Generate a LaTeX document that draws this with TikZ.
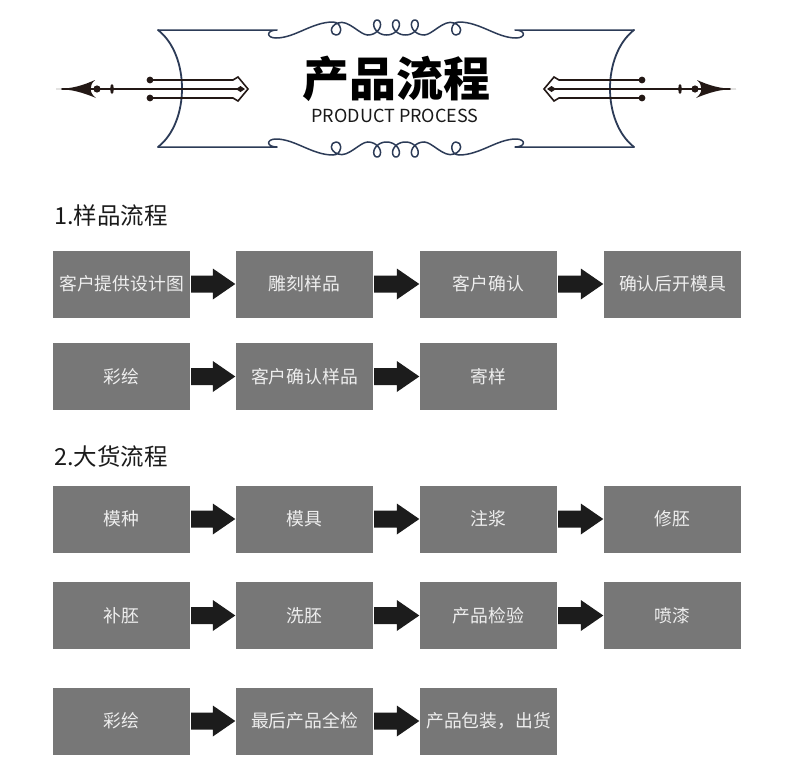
\documentclass[tikz,border=0pt]{standalone}
\usepackage{fontspec}
\setmainfont{Noto Sans CJK SC}
\usetikzlibrary{calc}
\definecolor{boxgray}{HTML}{777777}
\definecolor{boxtext}{HTML}{EEEEEE}
\definecolor{arrowblack}{HTML}{1C1C1C}
\definecolor{navy}{HTML}{2C3B57}
\definecolor{spear}{HTML}{231815}
\definecolor{headtext}{HTML}{1A1A1A}
\tikzset{
  procbox/.style={fill=boxgray, minimum width=137pt, minimum height=67pt, inner sep=0pt,
    text=boxtext, font=\fontsize{17.8pt}{20pt}\selectfont},
  heading/.style={anchor=west, inner sep=0pt, text=headtext, font=\fontsize{23.5pt}{26pt}\selectfont},
  framestroke/.style={draw=navy, line width=1.8pt, line cap=round, line join=round},
  spearstroke/.style={draw=spear, line width=1.6pt, line cap=round},
}
\newcommand\flowarr[2]{%
  \fill[arrowblack] let \p1=(#1.east), \p2=(#2.west) in
    (\x1+1pt,\y1+8.5pt) -- (\x2-23pt,\y1+8.5pt) -- (\x2-23pt,\y1+15.5pt) --
    (\x2-0.5pt,\y1) -- (\x2-23pt,\y1-15.5pt) -- (\x2-23pt,\y1-8.5pt) --
    (\x1+1pt,\y1-8.5pt) -- cycle;}
\newcommand\flourishhalf{%
  \draw[framestroke, line width=1.5pt] (158,30) -- (277,30)
    .. controls (266,30) and (266,38) .. (276,38)
    .. controls (295,38) and (312,22) .. (333,22)
    .. controls (342,22) and (343,35) .. (336,35)
    .. controls (330,35) and (329,26) .. (338,23)
    .. controls (348,19) and (360,35) .. (367.7,35);
  \draw[framestroke, line width=1.5pt] plot[domain=0:18.8496, samples=160, variable=\t]
    ({367.7+3*\t+7.5*sin(\t r)}, {27.5+7.5*cos(\t r)});
  \draw[framestroke, line width=1.5pt] (424.3,35)
    .. controls (432,35) and (444,19) .. (454,23)
    .. controls (463,26) and (462,35) .. (456,35)
    .. controls (450,35) and (450,22) .. (459,22)
    .. controls (480,22) and (497,38) .. (516,38)
    .. controls (526,38) and (526,30) .. (515,30) -- (634,30);}
\newcommand\spearorn{%
  \draw[spearstroke] (62,89) -- (238,89);
  \fill[spear] (56,89) .. controls (72,89) and (84,85) .. (95,80)
    .. controls (89,85) and (89,93) .. (96,98)
    .. controls (84,93) and (72,89) .. (56,89) -- cycle;
  \fill[spear] (97,89) circle (3.6);
  \fill[spear] (112,89) ellipse (1.8 and 5);
  \draw[spearstroke] (150,80) -- (233,80) -- (238,77) -- (248,89) -- (238,101) -- (233,98) -- (150,98);
  \fill[spear] (150,80) circle (3.4);
  \fill[spear] (150,98) circle (3.4);
  \fill[spear] (236,89) -- (240.5,86) -- (245,89) -- (240.5,92) -- cycle;}
\begin{document}
\begin{tikzpicture}[x=1pt, y=-1pt]
\useasboundingbox (0,0) rectangle (790,782);
\fill[white] (0,0) rectangle (790,782);
% ---- header frame ----
\flourishhalf
\begin{scope}[shift={(0,177)}, yscale=-1]
  \flourishhalf
\end{scope}
\draw[framestroke] (158,30) .. controls (190,55) and (190,122) .. (158,147);
\draw[framestroke] (634,30) .. controls (602,55) and (602,122) .. (634,147);
\spearorn
\begin{scope}[shift={(792,0)}, xscale=-1]
  \spearorn
\end{scope}
\node[inner sep=0pt, font=\fontsize{47pt}{50pt}\selectfont\bfseries, text=black] (title) at (396.5,78.5) {产品流程};
\node[inner sep=0pt, font=\fontsize{18pt}{22pt}\selectfont, text=headtext] (subtitle) at (395,116) {PRODUCT PROCESS};
% ---- headings ----
\node[heading] (h1) at (54,216) {1.样品流程};
\node[heading] (h2) at (54,457) {2.大货流程};
% ---- sample flow ----
\node[procbox] (a1) at (121.5,284) {客户提供设计图};
\node[procbox] (a2) at (304.5,284) {雕刻样品};
\node[procbox] (a3) at (488.5,284) {客户确认};
\node[procbox] (a4) at (672.5,284) {确认后开模具};
\node[procbox] (b1) at (121.5,376.5) {彩绘};
\node[procbox] (b2) at (304.5,376.5) {客户确认样品};
\node[procbox] (b3) at (488.5,376.5) {寄样};
\flowarr{a1}{a2}\flowarr{a2}{a3}\flowarr{a3}{a4}
\flowarr{b1}{b2}\flowarr{b2}{b3}
% ---- bulk flow ----
\node[procbox] (c1) at (121.5,519) {模种};
\node[procbox] (c2) at (304.5,519) {模具};
\node[procbox] (c3) at (488.5,519) {注浆};
\node[procbox] (c4) at (672.5,519) {修胚};
\node[procbox] (d1) at (121.5,615.5) {补胚};
\node[procbox] (d2) at (304.5,615.5) {洗胚};
\node[procbox] (d3) at (488.5,615.5) {产品检验};
\node[procbox] (d4) at (672.5,615.5) {喷漆};
\node[procbox] (e1) at (121.5,721) {彩绘};
\node[procbox] (e2) at (304.5,721) {最后产品全检};
\node[procbox] (e3) at (488.5,721) {产品包装，出货};
\flowarr{c1}{c2}\flowarr{c2}{c3}\flowarr{c3}{c4}
\flowarr{d1}{d2}\flowarr{d2}{d3}\flowarr{d3}{d4}
\flowarr{e1}{e2}\flowarr{e2}{e3}
\end{tikzpicture}
\end{document}
